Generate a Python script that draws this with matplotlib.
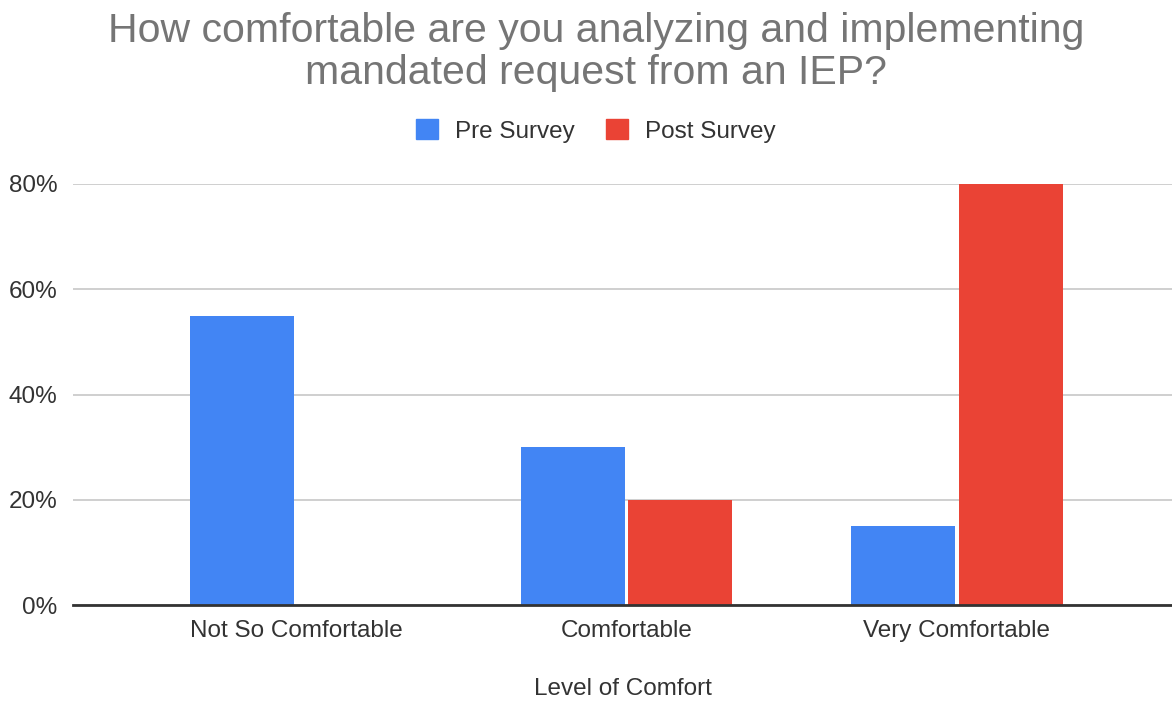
import matplotlib
matplotlib.use("Agg")
import matplotlib.pyplot as plt
import numpy as np
from matplotlib.patches import Patch

categories = ["Not So Comfortable", "Comfortable", "Very Comfortable"]
pre_survey = [55, 30, 15]
post_survey = [0, 20, 80]
series_names = ["Pre Survey", "Post Survey"]
yticks = [0, 20, 40, 60, 80]
ytick_labels = ["0%", "20%", "40%", "60%", "80%"]

plt.rcParams['font.family'] = ['Liberation Sans', 'DejaVu Sans']

W, H = 1172, 705
fig = plt.figure(figsize=(W / 100, H / 100), dpi=100)
ax = fig.add_axes([73 / W, 1 - 605 / H, 1 - 73 / W, (605 - 184) / H])

blue = "#4285F4"
red = "#EA4335"
x = np.arange(len(categories))
bw = 0.315
off = 0.163
ax.bar(x - off, pre_survey, bw, color=blue, zorder=3)
ax.bar(x + off, post_survey, bw, color=red, zorder=3)

ax.set_xlim(-0.675, 2.651)
ax.set_ylim(0, 80)
ax.set_yticks(yticks)
ax.set_yticklabels(ytick_labels)
ax.yaxis.grid(True, color="#cccccc", linewidth=1.3, zorder=0)
ax.set_axisbelow(True)
for s in ["top", "right", "left"]:
    ax.spines[s].set_visible(False)
ax.spines["bottom"].set_color("#333333")
ax.spines["bottom"].set_linewidth(2)
ax.spines["bottom"].set_zorder(4)
ax.set_xticks(x)
ax.set_xticklabels(categories)
ax.tick_params(axis="both", length=0, labelsize=17.5, labelcolor="#333333")
ax.tick_params(axis="y", pad=11)
ax.tick_params(axis="x", pad=11)
ax.set_xlabel("Level of Comfort", fontsize=17.5, color="#333333", labelpad=26)

fig.text(596 / W, 1 - 52 / H,
         "How comfortable are you analyzing and implementing\nmandated request from an IEP?",
         ha="center", va="center", fontsize=29.5, color="#757575", linespacing=1.12)

handles = [Patch(color=blue), Patch(color=red)]
fig.legend(handles, series_names, loc="center", bbox_to_anchor=(596 / W, 1 - 131 / H),
           ncol=2, frameon=False, fontsize=17.5, handlelength=0.9, handleheight=0.9,
           columnspacing=1.3, handletextpad=0.7, labelcolor="#333333")

fig.savefig("out.png", dpi=100)
